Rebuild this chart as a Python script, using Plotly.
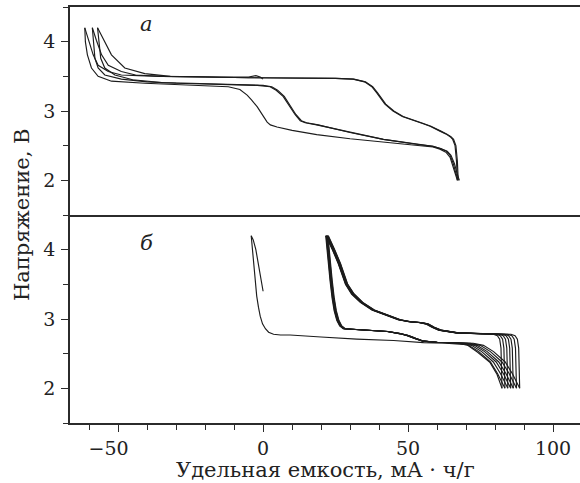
import plotly.graph_objects as go

# ---------------- panel "а" (top) ----------------
A_C0_X = [0.0, -1.0, -2.5, -5.0, -15.0, -25.0, -35.0, -43.0, -48.9, -53.4, -56.9, -58.6, -60.3, -61.5]
A_C0_V = [3.46, 3.49, 3.51, 3.49, 3.49, 3.49, 3.50, 3.51, 3.52, 3.57, 3.66, 3.81, 4.05, 4.20]

A_D1_X = [-61.5, -61.3, -60.6, -59.2, -56.9, -52.3, -40.8, -30.0, -20.0, -12.0, -8.0, -5.5, -4.0, -2.0,
          0.0, 1.4, 2.5, 4.8, 10.0, 18.5, 30.0, 41.5, 50.0, 58.6, 61.0, 63.2, 64.5, 65.6, 66.4, 67.0]
A_D1_V = [4.20, 4.00, 3.81, 3.62, 3.50, 3.43, 3.40, 3.38, 3.37, 3.35, 3.31, 3.23, 3.16, 3.06,
          2.93, 2.84, 2.80, 2.77, 2.72, 2.66, 2.60, 2.55, 2.52, 2.48, 2.45, 2.40, 2.33, 2.20, 2.08, 2.00]

A_C1_X = [67.0, 66.7, 66.2, 65.4, 64.5, 63.0, 61.0, 57.6, 55.0, 53.0, 48.0, 44.8, 42.0, 39.2, 37.5,
          35.0, 31.0, 25.0, 10.0, -5.0, -20.0, -35.0, -44.0, -48.9, -53.4, -55.7, -57.5, -58.9]
A_C1_V = [2.00, 2.28, 2.50, 2.59, 2.63, 2.67, 2.71, 2.78, 2.82, 2.85, 2.92, 3.00, 3.10, 3.26, 3.35,
          3.42, 3.46, 3.47, 3.47, 3.48, 3.49, 3.50, 3.52, 3.57, 3.66, 3.81, 4.02, 4.20]

A_D2_X = [-58.9, -58.6, -58.0, -56.9, -54.6, -48.9, -40.0, -30.0, -20.0, -10.0, -2.0, 2.4, 4.5, 6.9,
          9.0, 11.0, 12.8, 14.5, 18.5, 30.0, 41.5, 53.0, 58.6, 61.0, 63.2, 64.5, 65.6, 66.5, 67.3]
A_D2_V = [4.20, 4.00, 3.76, 3.62, 3.52, 3.46, 3.42, 3.40, 3.39, 3.38, 3.37, 3.35, 3.30, 3.21,
          3.08, 2.95, 2.86, 2.83, 2.80, 2.69, 2.59, 2.52, 2.49, 2.46, 2.42, 2.36, 2.24, 2.10, 2.00]

A_C2_X = [67.3, 67.0, 66.5, 65.7, 64.8, 63.3, 61.3, 57.9, 55.3, 53.3, 48.3, 45.1, 42.3, 39.5, 37.8,
          35.3, 31.3, 25.0, 10.0, -5.0, -20.0, -32.0, -40.8, -47.7, -52.3, -55.2, -57.1]
A_C2_V = [2.00, 2.28, 2.50, 2.59, 2.63, 2.67, 2.71, 2.78, 2.82, 2.85, 2.92, 3.00, 3.10, 3.26, 3.35,
          3.42, 3.46, 3.47, 3.47, 3.48, 3.49, 3.50, 3.54, 3.62, 3.81, 4.05, 4.20]

A_D3_X = [-57.1, -56.7, -56.0, -54.6, -51.1, -45.0, -35.0, -25.0, -15.0, -5.0, 0.0, 3.0, 5.0, 7.3,
          9.3, 11.3, 13.2, 15.0, 19.0, 30.0, 41.5, 53.0, 58.6, 61.3, 63.5, 64.8, 66.0, 66.9, 67.7]
A_D3_V = [4.20, 4.00, 3.76, 3.62, 3.52, 3.45, 3.41, 3.40, 3.39, 3.38, 3.37, 3.35, 3.30, 3.21,
          3.08, 2.95, 2.86, 2.83, 2.80, 2.69, 2.59, 2.52, 2.49, 2.46, 2.42, 2.36, 2.24, 2.10, 2.00]

# ---------------- panel "б" (bottom) ----------------
B_C0_X = [0.0, -0.8, -1.6, -2.5, -3.4, -4.1]
B_C0_V = [3.40, 3.60, 3.81, 4.00, 4.14, 4.20]

B_D0_X = [-4.1, -3.8, -3.3, -2.8, -2.2, -1.6, -1.0, -0.2, 0.8, 1.9, 3.6, 6.0, 9.3, 20.0, 32.3,
          45.0, 55.3, 63.0, 70.2, 74.0, 78.3, 80.7, 82.4]
B_D0_V = [4.20, 4.05, 3.81, 3.57, 3.33, 3.17, 3.04, 2.93, 2.86, 2.81, 2.78, 2.77, 2.77, 2.74, 2.71,
          2.69, 2.66, 2.65, 2.63, 2.52, 2.37, 2.20, 2.00]

# charge curves (start at 2.0 V at the right, end at 4.2 V peak)
B_CHG_V = [2.00, 2.30, 2.58, 2.71, 2.76, 2.78, 2.785, 2.80, 2.84, 2.88, 2.93, 2.95, 2.96, 2.99,
           3.04, 3.13, 3.24, 3.36, 3.50, 3.80, 4.00, 4.13, 4.20]
B_C1_X = [82.4, 82.25, 82.05, 81.6, 80.8, 79.4, 74.5, 66.5, 60.5, 58.2, 56.0, 53.5, 50.2, 46.5,
          43.3, 37.5, 33.5, 30.5, 28.4, 25.9, 23.9, 22.5, 21.6]
B_C2_X = [83.4, 83.25, 83.05, 82.6, 81.8, 80.4, 74.7, 66.7, 60.7, 58.4, 56.2, 53.7, 50.4, 46.7,
          43.5, 37.7, 33.7, 30.7, 28.5, 26.0, 24.0, 22.6, 21.75]
B_C3_X = [84.4, 84.25, 84.05, 83.6, 82.8, 81.4, 74.8, 66.8, 60.8, 58.5, 56.3, 53.8, 50.5, 46.8,
          43.6, 37.8, 33.8, 30.8, 28.6, 26.1, 24.1, 22.7, 21.9]
B_C4_X = [85.4, 85.25, 85.05, 84.6, 83.8, 82.4, 75.0, 67.0, 61.0, 58.7, 56.5, 54.0, 50.7, 47.0,
          43.8, 38.0, 34.0, 31.0, 28.8, 26.3, 24.3, 22.9, 22.05]
B_C5_X = [86.3, 86.15, 85.95, 85.5, 84.7, 83.3, 75.1, 67.1, 61.1, 58.8, 56.6, 54.1, 50.8, 47.1,
          43.9, 38.1, 34.1, 31.1, 28.9, 26.4, 24.4, 23.05, 22.2]
B_C6_X = [87.4, 87.25, 87.05, 86.6, 85.8, 84.4, 75.3, 67.3, 61.3, 59.0, 56.8, 54.3, 51.0, 47.3,
          44.1, 38.3, 34.3, 31.3, 29.1, 26.6, 24.6, 23.2, 22.35]
B_C7_X = [88.5, 88.35, 88.15, 87.7, 86.9, 85.5, 75.4, 67.4, 61.4, 59.1, 56.9, 54.4, 51.1, 47.4,
          44.2, 38.4, 34.4, 31.4, 29.2, 26.7, 24.7, 23.35, 22.5]

# discharge curves (start at 4.2 V peak, end at 2.0 V at the right)
B_DIS_V = [4.20, 4.00, 3.78, 3.55, 3.30, 3.12, 2.98, 2.90, 2.86, 2.85, 2.84, 2.82, 2.79, 2.76,
           2.72, 2.68, 2.665, 2.65, 2.62, 2.53, 2.38, 2.21, 2.00]
B_D1_X = [21.6, 22.0, 22.5, 23.1, 23.8, 24.5, 25.4, 26.4, 27.6, 31.7, 37.7, 42.7, 46.9, 49.7,
          52.2, 55.0, 59.7, 67.4, 70.9, 74.4, 78.4, 80.9, 83.4]
B_D2_X = [21.75, 22.15, 22.65, 23.25, 23.95, 24.65, 25.55, 26.55, 27.75, 31.8, 37.8, 42.8, 47.0, 49.8,
          52.3, 55.1, 59.8, 68.4, 71.9, 75.4, 79.4, 81.9, 84.4]
B_D3_X = [21.9, 22.3, 22.8, 23.4, 24.1, 24.8, 25.7, 26.7, 27.9, 31.9, 37.9, 42.9, 47.1, 49.9,
          52.4, 55.2, 59.9, 69.4, 72.9, 76.4, 80.4, 82.9, 85.4]
B_D4_X = [22.05, 22.45, 22.95, 23.55, 24.25, 24.95, 25.85, 26.85, 28.05, 32.0, 38.0, 43.0, 47.2, 50.0,
          52.5, 55.3, 60.0, 70.3, 73.8, 77.3, 81.3, 83.8, 86.3]
B_D5_X = [22.2, 22.6, 23.1, 23.7, 24.4, 25.1, 26.0, 27.0, 28.2, 32.1, 38.1, 43.1, 47.3, 50.1,
          52.6, 55.4, 60.1, 71.4, 74.9, 78.4, 82.4, 84.9, 87.4]
B_D6_X = [22.35, 22.75, 23.25, 23.85, 24.55, 25.25, 26.15, 27.15, 28.35, 32.2, 38.2, 43.2, 47.4, 50.2,
          52.7, 55.5, 60.2, 72.5, 76.0, 79.5, 83.5, 86.0, 88.5]

X_TICKS = [-50, 0, 50, 100]
X_TICK_TEXT = ["\u221250\u2003", "0", "50", "100"]
Y_TICKS = [2, 3, 4]
X_TITLE = "Удельная емкость, мА · ч/г"
Y_TITLE = "Напряжение, В"
LABEL_A = "а"
LABEL_B = "б"

LINE = dict(color="#1c1c1c", width=1.15)
AX = "#2b2b2b"
FONT = "DejaVu Serif"
TXT = "#222"

fig = go.Figure()

top = [(A_C0_X, A_C0_V), (A_D1_X, A_D1_V), (A_C1_X, A_C1_V), (A_D2_X, A_D2_V),
       (A_C2_X, A_C2_V), (A_D3_X, A_D3_V)]
for xs, vs in top:
    fig.add_trace(go.Scatter(x=xs, y=vs, mode="lines", line=LINE, xaxis="x2", yaxis="y2",
                             showlegend=False, hoverinfo="skip"))

bottom = [(B_C0_X, B_C0_V), (B_D0_X, B_D0_V)]
for cx, dx in [(B_C1_X, B_D1_X), (B_C2_X, B_D2_X), (B_C3_X, B_D3_X), (B_C4_X, B_D4_X),
               (B_C5_X, B_D5_X), (B_C6_X, B_D6_X)]:
    bottom.append((cx, B_CHG_V))
    bottom.append((dx, B_DIS_V))
bottom.append((B_C7_X, B_CHG_V))
for xs, vs in bottom:
    fig.add_trace(go.Scatter(x=xs, y=vs, mode="lines", line=LINE, xaxis="x", yaxis="y",
                             showlegend=False, hoverinfo="skip"))

XR = [-66.6, 109.3]
YR = [1.5, 4.5]

yax = dict(range=YR, tickvals=Y_TICKS, ticks="outside", ticklen=7, tickwidth=1.3, tickcolor=AX,
           minor=dict(dtick=0.5, tick0=0, ticks="outside", ticklen=5, tickwidth=1.3, tickcolor=AX),
           showline=True, linecolor=AX, linewidth=1.5, showgrid=False, zeroline=False,
           tickfont=dict(family=FONT, size=19, color=TXT), ticklabelstandoff=2)

fig.update_layout(
    width=580, height=483,
    margin=dict(l=70, r=0, t=7, b=60),
    paper_bgcolor="white", plot_bgcolor="white",
    font=dict(family=FONT, color=TXT),
    xaxis=dict(domain=[0, 1], anchor="y", range=XR, tickvals=X_TICKS, ticktext=X_TICK_TEXT,
               ticks="outside", ticklen=7, tickwidth=1.3, tickcolor=AX,
               minor=dict(dtick=10, tick0=0, ticks="outside", ticklen=5, tickwidth=1.3, tickcolor=AX),
               showline=True, linecolor=AX, linewidth=1.5, showgrid=False, zeroline=False,
               tickfont=dict(family=FONT, size=19, color=TXT)),
    yaxis=dict(domain=[0, 0.5], anchor="x", **yax),
    xaxis2=dict(domain=[0, 1], anchor="y2", range=XR, showticklabels=False, ticks="",
                showline=True, mirror=True, linecolor=AX, linewidth=1.5,
                showgrid=False, zeroline=False),
    yaxis2=dict(domain=[0.5, 1], anchor="x2", **yax),
    annotations=[
        dict(text=X_TITLE, xref="paper", yref="paper", x=0.5, y=-0.113, xanchor="center",
             yanchor="middle", showarrow=False, font=dict(family=FONT, size=21, color=TXT)),
        dict(text=Y_TITLE, xref="paper", yref="paper", x=-0.094, y=0.5, xanchor="center",
             yanchor="middle", textangle=-90, showarrow=False,
             font=dict(family=FONT, size=21, color=TXT)),
        dict(text="<i>" + LABEL_A + "</i>", xref="x2", yref="y2", x=-40.3, y=4.26,
             showarrow=False, font=dict(family=FONT, size=21, color=TXT)),
        dict(text="<i>" + LABEL_B + "</i>", xref="x", yref="y", x=-40.3, y=4.09,
             showarrow=False, font=dict(family=FONT, size=21, color=TXT)),
    ],
)

fig.write_html("out.html", config={"displayModeBar": False},
               post_script="document.body.style.margin='0';document.body.style.padding='0';")
